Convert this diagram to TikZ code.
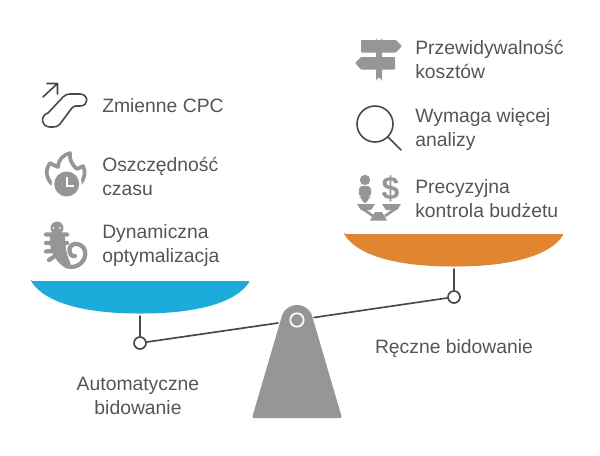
\documentclass[tikz,border=0pt]{standalone}
\usepackage{fontspec}
\setmainfont{Liberation Sans}
\newfontfamily\lab{Liberation Sans}
\definecolor{txt}{HTML}{555555}
\definecolor{ico}{HTML}{969696}
\definecolor{dk}{HTML}{484848}
\definecolor{blue}{HTML}{1DABDB}
\definecolor{org}{HTML}{E08530}
\tikzset{x=0.75pt,y=-0.75pt,
 lbl/.style={font=\lab\fontsize{14.5pt}{18pt}\selectfont,text=txt,align=left,anchor=west,inner sep=0pt},
 lblc/.style={font=\lab\fontsize{14.5pt}{18pt}\selectfont,text=txt,align=center,inner sep=0pt},
 lin/.style={draw=dk,line width=1.25pt,line cap=round,line join=round},
 oln/.style={draw=dk,line width=1.25pt,fill=white}}
\begin{document}
\begin{tikzpicture}
\useasboundingbox (0,0) rectangle (600,455);
% pans
\fill[blue,rounded corners=1pt] (31,281) -- (250,281) .. controls (235,304) and (193,313.5) .. (140.5,313.5) .. controls (88,313.5) and (46,304) .. (31,281) -- cycle;
\fill[org,rounded corners=1pt] (344,234) -- (564,234) .. controls (549,257) and (507,266.5) .. (454,266.5) .. controls (401,266.5) and (359,257) .. (344,234) -- cycle;
% beam
\node[circle,oln,minimum size=9pt,inner sep=0pt] (lc) at (140,343) {};
\node[circle,oln,minimum size=9pt,inner sep=0pt] (rc) at (454,297) {};
\coordinate (pvtl) at (278,323);
\coordinate (pvtr) at (314,317.5);
\coordinate (lpan) at (140,316);
\coordinate (rpan) at (454,269);
\draw[lin] (lpan) -- (lc);
\draw[lin] (rpan) -- (rc);
\draw[lin] (lc) -- (pvtl);
\draw[lin] (pvtr) -- (rc);
% fulcrum
\fill[ico] (297,321) circle (16);
\fill[ico,rounded corners=1.5pt] (252,418) -- (342,418) -- (312.4,317) -- (281.6,317) -- cycle;
\draw[white,line width=1.3pt] (297,320) circle (6.7);
% texts
\node[lbl] (t1) at (102,106) {Zmienne CPC};
\node[lbl] (t2) at (102,176) {Oszczędność\\czasu};
\node[lbl] (t3) at (102,245) {Dynamiczna\\optymalizacja};
\node[lbl] (t4) at (415,59) {Przewidywalność\\kosztów};
\node[lbl] (t5) at (415,129) {Wymaga więcej\\analizy};
\node[lbl] (t6) at (415,199) {Precyzyjna\\kontrola budżetu};
\node[lblc] (t7) at (138,396) {Automatyczne\\bidowanie};
\node[lblc] (t8) at (454,349) {Ręczne bidowanie};
% escalator icon
\draw[lin,line width=1.2pt] (43,97) -- (57.5,83.5) (47,83.5) -- (57.5,83.5) -- (57.5,94);
\draw[lin,line width=1.2pt] (48,113) -- (63,97) .. controls (65,95) and (67,94) .. (70,94) -- (80,94)
 .. controls (89,94.5) and (89,106) .. (80,106) -- (76,106) .. controls (74,106) and (73,107) .. (71.5,108.5) -- (60,124)
 .. controls (58,126.5) and (56,127) .. (53,127) -- (50,127) .. controls (41,127) and (40,115) .. (48,113) -- cycle;
% flame clock
\draw[ico,line width=2.8pt,line cap=round,line join=round] (52,184) .. controls (46,178) and (45,170) .. (50,163) .. controls (52,164) and (55,166) .. (58,167) .. controls (58,160) and (63,155) .. (70,153) .. controls (69,159) and (72,165) .. (77,169) .. controls (79,168) and (81,167) .. (83,166) .. controls (86,172) and (85,178) .. (80,184);
\fill[white] (66.7,184) circle (15);
\fill[ico] (66.7,184) circle (12.5);
\draw[white,line width=1.3pt] (66.7,176.5) -- (66.7,186) -- (73.5,186);
% salamander
\fill[ico] (57,228) circle (6.5);
\fill[ico,rounded corners=3pt] (49.5,232) -- (64.5,232) -- (66,250) -- (68,258) -- (72,266) -- (66,269) -- (57,261) -- (50.5,250) -- cycle;
\draw[ico,line width=3.2pt,line cap=round] (46,234.5) -- (67,234.5) (46,243) -- (67,243) (46,251.5) -- (64,250) (49,260) -- (58,254);
\draw[ico,line width=3.2pt,line cap=round] (66,266) .. controls (78,270) and (87,260) .. (85,251) .. controls (83,243) and (71,241) .. (69.5,249) .. controls (69,254) and (72,257) .. (75,256);
\fill[white] (53.5,228) circle (1) (60,228) circle (1);
% signpost
\fill[ico] (376,38) arc[start angle=180,end angle=0,radius=3] -- (382,81) arc[start angle=0,end angle=-180,radius=3] -- cycle;
\fill[ico,rounded corners=0.6pt] (361,40) -- (396,40) -- (402,46) -- (396,52.5) -- (361,52.5) -- cycle;
\fill[ico,rounded corners=0.6pt] (361,57) -- (395,57) -- (395,69.5) -- (361,69.5) -- (355,63) -- cycle;
% magnifier
\draw[dk,line width=1.2pt] (375,124) circle (18);
\draw[dk,line width=1.2pt,line cap=round] (388,137) -- (401,150);
% scale person
\fill[ico] (365,180) circle (5.2);
\fill[ico,rounded corners=2.5pt] (359,186) -- (371,186) -- (371,197) -- (368,197) -- (368,203) -- (362,203) -- (362,197) -- (359,197) -- cycle;
\node[inner sep=0pt,font=\lab\bfseries\fontsize{24pt}{24pt}\selectfont,text=ico] (dol) at (390.5,188.5) {\$};
\fill[ico] (357,204) -- (375,204) -- (371,210) -- (361,210) -- cycle;
\fill[ico] (382,204) -- (401,204) -- (397,210) -- (386,210) -- cycle;
\draw[ico,line width=2pt] (363,209) -- (373,216) (395,209) -- (385,216);
\fill[ico] (375,212) -- (382,212) -- (387,220.5) -- (370,220.5) -- cycle;
\end{tikzpicture}
\end{document}
